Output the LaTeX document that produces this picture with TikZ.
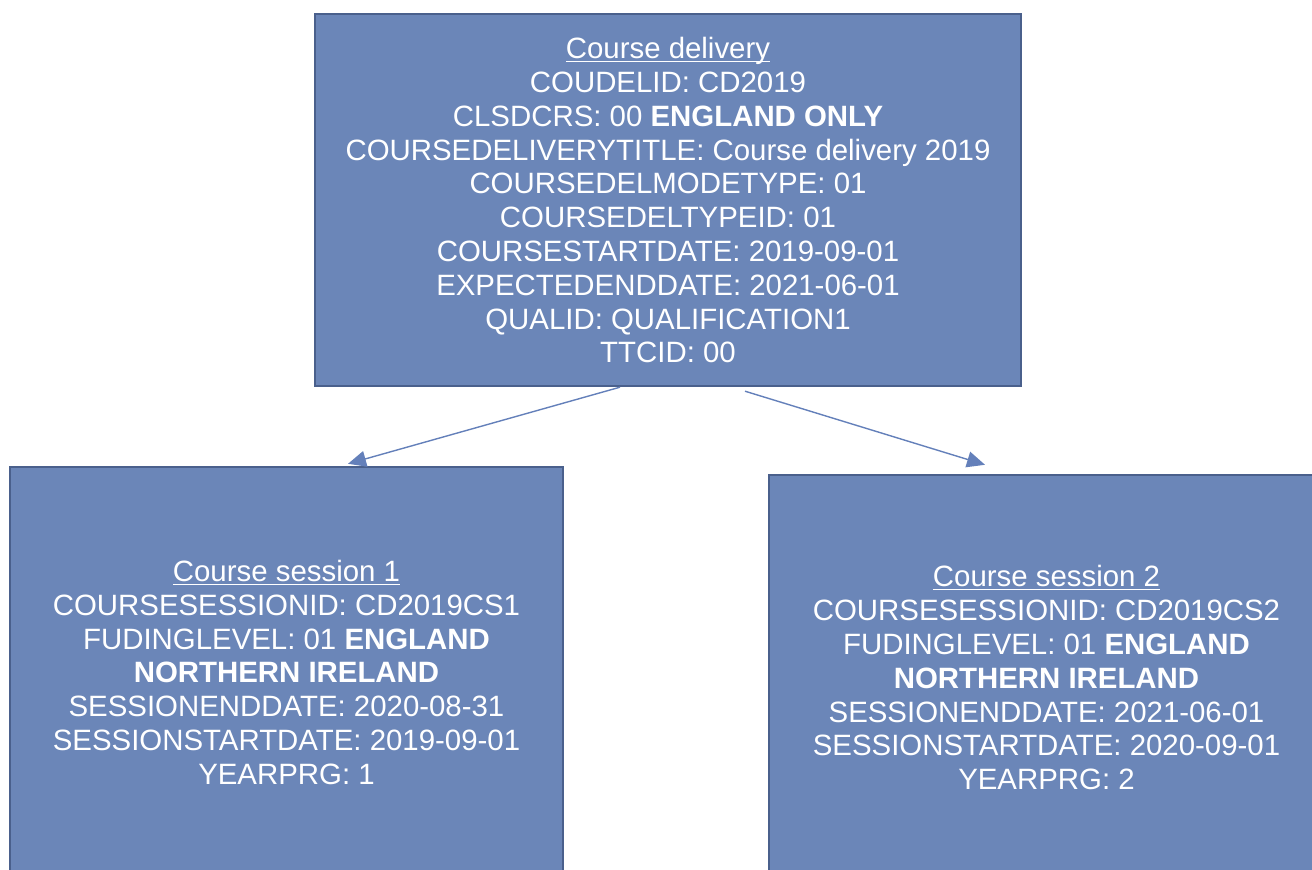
\documentclass[tikz,border=0pt]{standalone}
\usepackage{fontspec}
\setmainfont{Liberation Sans}
\usetikzlibrary{arrows.meta}
\definecolor{boxblue}{RGB}{107,134,184}
\definecolor{boxline}{RGB}{74,96,140}
\definecolor{linkblue}{RGB}{100,128,186}
\newcommand{\boxtitle}[1]{\rule{0pt}{11pt}\underline{\smash{#1}}}
\begin{document}
\begin{tikzpicture}[x=0.5pt,y=-0.5pt,
    entity/.style={draw=boxline,line width=1.2pt,fill=boxblue,text=white,align=center,
      font=\fontsize{14.7}{16.9}\selectfont,inner sep=0pt},
    link/.style={draw=linkblue,line width=0.7pt,-{Triangle[length=9pt,width=8pt]}}]
                \useasboundingbox (0,0) rectangle (1312,870);
                \node[entity,minimum width=353pt,minimum height=186pt] (delivery) at (668,200)
                  {\boxtitle{Course delivery}\\
                   COUDELID: CD2019\\
                   CLSDCRS: 00 \textbf{ENGLAND ONLY}\\
                   COURSEDELIVERYTITLE: Course delivery 2019\\
                   COURSEDELMODETYPE: 01\\
                   COURSEDELTYPEID: 01\\
                   COURSESTARTDATE: 2019-09-01\\
                   EXPECTEDENDDATE: 2021-06-01\\
                   QUALID: QUALIFICATION1\\
                   TTCID: 00};
                \node[entity,minimum width=276.5pt,minimum height=205pt] (session1) at (286.5,672)
                  {\boxtitle{Course session 1}\\
                   COURSESESSIONID: CD2019CS1\\
                   FUDINGLEVEL: 01 \textbf{ENGLAND}\\
                   \textbf{NORTHERN IRELAND}\\
                   SESSIONENDDATE: 2020-08-31\\
                   SESSIONSTARTDATE: 2019-09-01\\
                   YEARPRG: 1};
                \node[entity,minimum width=277.5pt,minimum height=202.5pt] (session2) at (1046.5,677.5)
                  {\boxtitle{Course session 2}\\
                   COURSESESSIONID: CD2019CS2\\
                   FUDINGLEVEL: 01 \textbf{ENGLAND}\\
                   \textbf{NORTHERN IRELAND}\\
                   SESSIONENDDATE: 2021-06-01\\
                   SESSIONSTARTDATE: 2020-09-01\\
                   YEARPRG: 2};
                \draw[link] ([xshift=-24pt]delivery.south) -- ([xshift=30.75pt,yshift=1pt]session1.north);
                \draw[link] ([xshift=38.5pt,yshift=-2pt]delivery.south) -- ([xshift=-30.75pt,yshift=4.5pt]session2.north);
            \end{tikzpicture}
\end{document}
